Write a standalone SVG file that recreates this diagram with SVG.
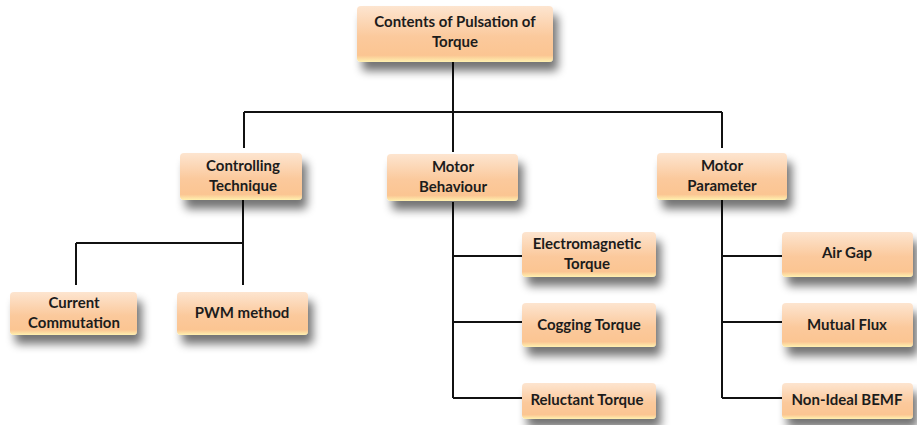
<svg xmlns="http://www.w3.org/2000/svg" width="917" height="425" viewBox="0 0 917 425">
<style>
.box{fill:url(#g);filter:url(#sh)}
.t{font-family:Lato,"Open Sans","Liberation Sans",sans-serif;font-weight:bold;font-size:15px;fill:#1c1c1c;text-anchor:middle}
.c{stroke:#111;stroke-width:2;fill:none}
</style>
<defs>
<linearGradient id="g" x1="0" y1="0" x2="0" y2="1">
<stop offset="0" stop-color="#fde5d0"/>
<stop offset="0.55" stop-color="#fbc99c"/>
<stop offset="0.88" stop-color="#fbc592"/>
<stop offset="1" stop-color="#fff1b0"/>
</linearGradient>
<filter id="sh" x="-20%" y="-20%" width="150%" height="190%">
<feGaussianBlur in="SourceAlpha" stdDeviation="5"/>
<feOffset dx="5" dy="9" result="b"/>
<feComponentTransfer><feFuncA type="linear" slope="0.55"/></feComponentTransfer>
<feMerge><feMergeNode/><feMergeNode in="SourceGraphic"/></feMerge>
</filter>
</defs>
<rect width="917" height="425" fill="#fff"/>
<g id="connectors">
<path class="c" d="M453 62V112M244 112H722M244 112V148M453 112V152M722 112V148"/>
<path class="c" d="M243 200V243M76 243H243M76 243V285M243 243V285"/>
<path class="c" d="M453 202V398M453 256H522M453 322H522M453 398H522"/>
<path class="c" d="M722 200V398M722 256H782M722 322H782M722 398H782"/>
</g>
<g id="n-top"><rect class="box" x="357" y="6" width="196" height="56" rx="4"/><text class="t" x="455" y="27">Contents of Pulsation of</text><text class="t" x="455" y="47">Torque</text></g>
<g id="n-ctrl"><rect class="box" x="180" y="153" width="122" height="47" rx="4"/><text class="t" x="243" y="171">Controlling</text><text class="t" x="243" y="191">Technique</text></g>
<g id="n-beh"><rect class="box" x="387" y="154" width="131" height="47" rx="4"/><text class="t" x="453" y="172">Motor</text><text class="t" x="453" y="192">Behaviour</text></g>
<g id="n-par"><rect class="box" x="657" y="153" width="130" height="47" rx="4"/><text class="t" x="722" y="171">Motor</text><text class="t" x="722" y="191">Parameter</text></g>
<g id="n-cur"><rect class="box" x="10" y="292" width="127" height="43" rx="4"/><text class="t" x="74" y="308">Current</text><text class="t" x="74" y="328">Commutation</text></g>
<g id="n-pwm"><rect class="box" x="177" y="292" width="131" height="43" rx="4"/><text class="t" x="242" y="318">PWM method</text></g>
<g id="n-em"><rect class="box" x="522" y="232" width="134" height="45" rx="4"/><text class="t" x="587" y="249">Electromagnetic</text><text class="t" x="587" y="269">Torque</text></g>
<g id="n-cog"><rect class="box" x="522" y="303" width="134" height="44" rx="4"/><text class="t" x="589" y="330">Cogging Torque</text></g>
<g id="n-rel"><rect class="box" x="522" y="383" width="134" height="36" rx="4"/><text class="t" x="587" y="405">Reluctant Torque</text></g>
<g id="n-air"><rect class="box" x="782" y="232" width="131" height="45" rx="4"/><text class="t" x="847" y="258">Air Gap</text></g>
<g id="n-mut"><rect class="box" x="782" y="303" width="131" height="44" rx="4"/><text class="t" x="847" y="330">Mutual Flux</text></g>
<g id="n-bemf"><rect class="box" x="782" y="383" width="131" height="36" rx="4"/><text class="t" x="847" y="405">Non-Ideal BEMF</text></g>
</svg>
